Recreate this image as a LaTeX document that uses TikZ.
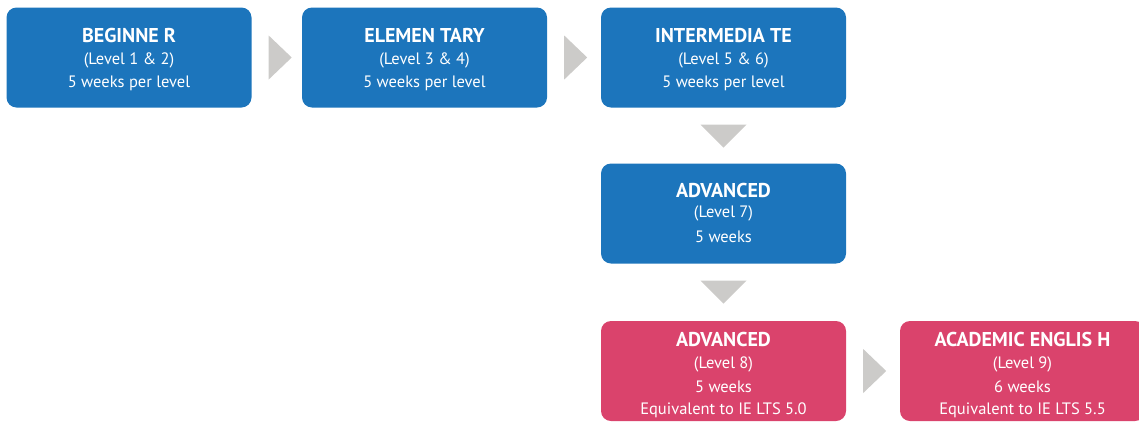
\documentclass[tikz,border=0pt]{standalone}
\usepackage{fontspec}
\setmainfont{PT Sans}
\usetikzlibrary{calc}
\definecolor{boxblue}{HTML}{1C75BC}
\definecolor{boxpink}{HTML}{DA436C}
\definecolor{trigray}{HTML}{CCCBC9}
\tikzset{
  stagebox/.style={rounded corners=10pt, minimum width=245pt, minimum height=100pt, inner sep=0pt, draw=none},
  bluebox/.style={stagebox, fill=boxblue},
  pinkbox/.style={stagebox, fill=boxpink},
  ttl/.style={anchor=base, text=white, font=\fontsize{20}{23}\selectfont\bfseries, inner sep=0pt},
  txt/.style={anchor=base, text=white, font=\fontsize{16.5}{19}\selectfont, inner sep=0pt},
  tri/.style={fill=trigray, draw=none}
}
\begin{document}
\begin{tikzpicture}[x=1pt, y=-1pt]
\useasboundingbox (0,0) rectangle (1139,421);
\clip (0,0) rectangle (1139,421);
% boxes
\node[bluebox] (b1) at (129,57.5) {};
\node[bluebox] (b2) at (424.5,57.5) {};
\node[bluebox] (b3) at (723.5,57.5) {};
\node[bluebox] (b4) at (723.5,213.5) {};
\node[pinkbox] (b5) at (723.5,371) {};
\node[pinkbox] (b6) at (1022.5,371) {};
% texts
\node[ttl] (t1) at ($(b1.north)+(0,35)$) {BEGINNE R};
\node[txt] (l1) at ($(b1.north)+(0,57)$) {(Level 1 \& 2)};
\node[txt] (w1) at ($(b1.north)+(0,80)$) {5 weeks per level};
\node[ttl] (t2) at ($(b2.north)+(0,35)$) {ELEMEN TARY};
\node[txt] (l2) at ($(b2.north)+(0,57)$) {(Level 3 \& 4)};
\node[txt] (w2) at ($(b2.north)+(0,80)$) {5 weeks per level};
\node[ttl] (t3) at ($(b3.north)+(0,35)$) {INTERMEDIA TE};
\node[txt] (l3) at ($(b3.north)+(0,57)$) {(Level 5 \& 6)};
\node[txt] (w3) at ($(b3.north)+(0,80)$) {5 weeks per level};
\node[ttl] (t4) at ($(b4.north)+(0,34)$) {ADVANCED};
\node[txt] (l4) at ($(b4.north)+(0,54)$) {(Level 7)};
\node[txt] (w4) at ($(b4.north)+(0,79)$) {5 weeks};
\node[ttl] (t5) at ($(b5.north)+(0,25.5)$) {ADVANCED};
\node[txt] (l5) at ($(b5.north)+(0,47.5)$) {(Level 8)};
\node[txt] (w5) at ($(b5.north)+(0,71.5)$) {5 weeks};
\node[txt] (e5) at ($(b5.north)+(0,93.5)$) {Equivalent to IE LTS 5.0};
\node[ttl] (t6) at ($(b6.north)+(0,25.5)$) {ACADEMIC ENGLIS H};
\node[txt] (l6) at ($(b6.north)+(0,47.5)$) {(Level 9)};
\node[txt] (w6) at ($(b6.north)+(0,71.5)$) {6 weeks};
\node[txt] (e6) at ($(b6.north)+(0,93.5)$) {Equivalent to IE LTS 5.5};
% arrows
\fill[tri] ($(b1.east)+(17,-22)$) -- ++(23,22) -- ++(-23,22) -- cycle;
\fill[tri] ($(b2.east)+(17,-22)$) -- ++(23,22) -- ++(-23,22) -- cycle;
\fill[tri] ($(b5.east)+(17,-22)$) -- ++(23,22) -- ++(-23,22) -- cycle;
\fill[tri] ($(b3.south)+(-23,17)$) -- ++(46,0) -- ++(-23,23) -- cycle;
\fill[tri] ($(b4.south)+(-23,17)$) -- ++(46,0) -- ++(-23,23) -- cycle;
\end{tikzpicture}
\end{document}
